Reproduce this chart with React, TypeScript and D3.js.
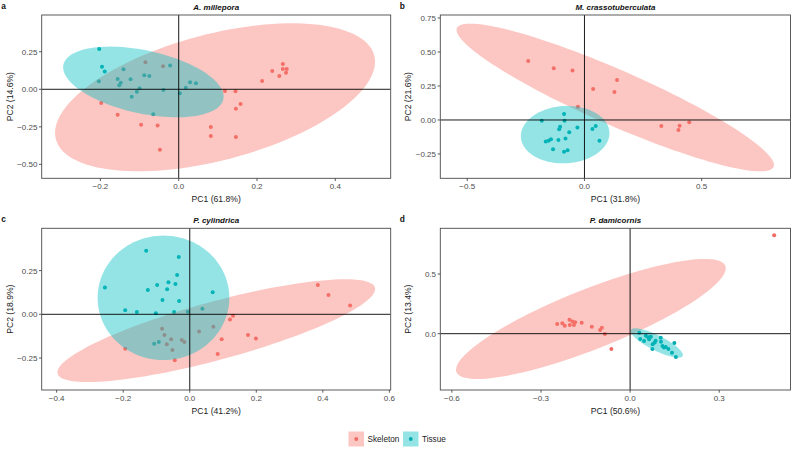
import React from "react";
import * as d3 from "d3";

// ---------- data (PC1, PC2) ----------
const aSkeleton: [number, number][] = [
  [-0.085, 0.18], [-0.04, 0.153], [-0.198, -0.091], [-0.156, -0.169], [-0.096, -0.236],
  [-0.054, -0.242], [-0.048, -0.402], [0.082, -0.251], [0.082, -0.311], [0.118, -0.011],
  [0.145, -0.013], [0.146, -0.129], [0.158, -0.098], [0.146, -0.318], [0.213, 0.056],
  [0.239, 0.122], [0.257, 0.089], [0.266, 0.169], [0.266, 0.136], [0.274, 0.111], [0.276, 0.136],
];
const aTissue: [number, number][] = [
  [-0.203, 0.269], [-0.196, 0.151], [-0.189, 0.118], [-0.204, 0.053], [-0.141, 0.133],
  [-0.156, 0.069], [-0.148, 0.044], [-0.152, 0.027], [-0.123, 0.067], [-0.088, 0.093],
  [-0.075, 0.089], [-0.1, 0.007], [-0.107, -0.016], [-0.12, -0.049], [-0.039, -0.004],
  [-0.022, 0.158], [0.003, -0.027], [0.018, 0.011], [0.029, 0.047], [0.044, 0.04], [-0.065, -0.167],
];
const bSkeleton: [number, number][] = [
  [-0.24, 0.434], [-0.131, 0.38], [-0.051, 0.363], [-0.028, 0.098], [0.037, 0.228],
  [0.139, 0.294], [0.128, 0.206], [0.328, -0.044], [0.401, -0.074], [0.406, -0.042], [0.447, -0.017],
];
const bTissue: [number, number][] = [
  [-0.182, -0.005], [-0.087, 0.044], [-0.085, -0.005], [-0.104, -0.049], [-0.108, -0.069],
  [-0.065, -0.091], [-0.03, -0.056], [0.034, -0.066], [0.048, -0.044], [0.064, -0.152],
  [-0.081, -0.137], [-0.111, -0.147], [-0.143, -0.142], [-0.153, -0.152], [-0.165, -0.159],
  [-0.134, -0.216], [-0.087, -0.233], [-0.072, -0.223],
];
const cSkeleton: [number, number][] = [
  [-0.194, -0.197], [-0.083, -0.082], [-0.076, -0.118], [-0.069, -0.172], [-0.056, -0.143],
  [-0.052, -0.204], [-0.045, -0.263], [-0.024, -0.147], [-0.016, -0.158], [0.028, -0.099],
  [0.071, -0.071], [0.096, -0.143], [0.084, -0.227], [0.121, -0.029], [0.13, -0.008],
  [0.175, -0.118], [0.199, -0.139], [0.385, 0.168], [0.417, 0.111], [0.482, 0.05],
];
const cTissue: [number, number][] = [
  [-0.131, 0.363], [-0.033, 0.328], [-0.038, 0.225], [-0.255, 0.153], [-0.126, 0.139],
  [-0.098, 0.168], [-0.064, 0.183], [-0.043, 0.174], [-0.068, 0.143], [-0.082, 0.082],
  [-0.032, 0.076], [0.069, 0.126], [-0.194, 0.023], [-0.159, 0.013], [-0.102, 0.006],
  [-0.047, 0.013], [-0.006, 0.015], [0.038, 0.032], [-0.107, -0.168], [-0.093, -0.158],
];
const dSkeleton: [number, number][] = [
  [0.485, 0.824], [-0.2455, 0.081], [-0.228, 0.087], [-0.22, 0.067], [-0.204, 0.117],
  [-0.203, 0.073], [-0.194, 0.101], [-0.189, 0.073], [-0.185, 0.095], [-0.163, 0.092],
  [-0.129, 0.059], [-0.101, 0.031], [-0.095, 0.05], [-0.085, -0.003], [-0.063, -0.128],
];
const dTissue: [number, number][] = [
  [0.031, 0.008], [0.034, -0.045], [0.047, -0.061], [0.053, -0.017], [0.061, -0.031],
  [0.064, -0.047], [0.07, -0.025], [0.075, -0.128], [0.076, -0.089], [0.083, -0.073],
  [0.086, -0.059], [0.103, -0.034], [0.104, -0.067], [0.109, -0.103], [0.114, -0.115],
  [0.12, -0.112], [0.129, -0.128], [0.149, -0.078], [0.141, -0.159], [0.154, -0.196],
];

// ellipses: [cx, cy, sx, sy, rho]
const aSkeletonEllipse = [0.0928, -0.0533, 0.4087, 0.493, 0.48];
const aTissueEllipse = [-0.0903, 0.0489, 0.205, 0.2356, -0.415];
const bSkeletonEllipse = [0.1314, 0.1654, 0.677, 0.543, -0.914];
const bTissueEllipse = [-0.0824, -0.108, 0.189, 0.211, 0.05];
const cSkeletonEllipse = [0.0797, -0.0935, 0.4775, 0.294, 0.81];
const cTissueEllipse = [-0.079, 0.0945, 0.198, 0.356, 0.0];
const dSkeletonEllipse = [-0.132, 0.123, 0.454, 0.503, 0.844];
const dTissueEllipse = [0.0897, -0.078, 0.088, 0.123, -0.82];

const panelLetters = ["a", "b", "c", "d"];
const panelTitles = ["A. millepora", "M. crassotuberculata", "P. cylindrica", "P. damicornis"];
const xLabels = ["PC1 (61.8%)", "PC1 (31.8%)", "PC1 (41.2%)", "PC1 (50.6%)"];
const yLabels = ["PC2 (14.6%)", "PC2 (21.6%)", "PC2 (18.9%)", "PC2 (13.4%)"];
const xDomains = [[-0.35, 0.5415], [-0.615, 0.879], [-0.445, 0.604], [-0.639, 0.54]];
const yDomains = [[-0.593, 0.495], [-0.429, 0.772], [-0.433, 0.492], [-0.472, 0.883]];
const xTicks = [[-0.2, 0, 0.2, 0.4], [-0.5, 0, 0.5], [-0.4, -0.2, 0, 0.2, 0.4, 0.6], [-0.6, -0.3, 0, 0.3]];
const xTickDigits = [1, 1, 1, 1];
const yTicks = [[-0.5, -0.25, 0, 0.25], [-0.25, 0, 0.25, 0.5, 0.75], [-0.25, 0, 0.25], [0, 0.5]];
const yTickDigits = [2, 2, 2, 1];
const groups = ["Skeleton", "Tissue"];
const skeletonSets = [aSkeleton, bSkeleton, cSkeleton, dSkeleton];
const tissueSets = [aTissue, bTissue, cTissue, dTissue];
const skeletonEllipses = [aSkeletonEllipse, bSkeletonEllipse, cSkeletonEllipse, dSkeletonEllipse];
const tissueEllipses = [aTissueEllipse, bTissueEllipse, cTissueEllipse, dTissueEllipse];

// ---------- style ----------
const FONT = "'Liberation Sans', Arial, sans-serif";
const POINT_COLORS = ["#F06A63", "#00ABAE"];
const FILL_COLORS = ["#F8766D", "#00BFC4"];
const FILL_ALPHA = 0.42;

const W = 792;
const H = 451;
const rects = [
  { l: 41.7, r: 390.7, t: 15, b: 178.3 },
  { l: 440.3, r: 790.5, t: 15, b: 178.3 },
  { l: 41.7, r: 390.7, t: 228.3, b: 390 },
  { l: 440.3, r: 790.5, t: 228.3, b: 390 },
];

function ellipsePoints(e: number[]): [number, number][] {
  const [cx, cy, sx, sy, rho] = e;
  const q = Math.sqrt(1 - rho * rho);
  return d3.range(0, 120).map((i) => {
    const t = (i / 120) * Math.PI * 2;
    return [cx + sx * Math.cos(t), cy + sy * (rho * Math.cos(t) + q * Math.sin(t))];
  });
}

function Panel({ i }: { i: number }) {
  const R = rects[i];
  const x = d3.scaleLinear().domain(xDomains[i]).range([R.l, R.r]);
  const y = d3.scaleLinear().domain(yDomains[i]).range([R.b, R.t]);
  const line = d3
    .line<[number, number]>()
    .x((d) => x(d[0]))
    .y((d) => y(d[1]))
    .curve(d3.curveLinearClosed);
  const sets = [skeletonSets[i], tissueSets[i]];
  const ells = [skeletonEllipses[i], tissueEllipses[i]];
  const clipId = `clip${i}`;
  const cxMid = (R.l + R.r) / 2;
  const cyMid = (R.t + R.b) / 2;
  return (
    <g>
      <defs>
        <clipPath id={clipId}>
          <rect x={R.l} y={R.t} width={R.r - R.l} height={R.b - R.t} />
        </clipPath>
      </defs>
      <g clipPath={`url(#${clipId})`}>
        {sets.map((s, g) =>
          s.map((p, k) => (
            <circle key={`${g}-${k}`} cx={x(p[0])} cy={y(p[1])} r={2} fill={POINT_COLORS[g]} />
          ))
        )}
        {ells.map((e, g) => (
          <path key={g} d={line(ellipsePoints(e)) || ""} fill={FILL_COLORS[g]} fillOpacity={FILL_ALPHA} stroke="none" />
        ))}
        <line x1={x(0)} x2={x(0)} y1={R.t} y2={R.b} stroke="#000" strokeWidth={0.9} />
        <line x1={R.l} x2={R.r} y1={y(0)} y2={y(0)} stroke="#000" strokeWidth={0.9} />
      </g>
      <rect x={R.l} y={R.t} width={R.r - R.l} height={R.b - R.t} fill="none" stroke="#4a4a4a" strokeWidth={0.9} />
      {xTicks[i].map((v) => (
        <g key={`x${v}`}>
          <line x1={x(v)} x2={x(v)} y1={R.b} y2={R.b + 2.7} stroke="#333" strokeWidth={0.8} />
          <text x={x(v)} y={R.b + 10.8} textAnchor="middle" fontSize={8} fill="#4d4d4d" fontFamily={FONT}>
            {d3.format(`.${xTickDigits[i]}f`)(v)}
          </text>
        </g>
      ))}
      {yTicks[i].map((v) => (
        <g key={`y${v}`}>
          <line x1={R.l - 2.7} x2={R.l} y1={y(v)} y2={y(v)} stroke="#333" strokeWidth={0.8} />
          <text x={R.l - 4.3} y={y(v) + 2.9} textAnchor="end" fontSize={8} fill="#4d4d4d" fontFamily={FONT}>
            {d3.format(`.${yTickDigits[i]}f`)(v)}
          </text>
        </g>
      ))}
      <text x={cxMid} y={R.b + 24} textAnchor="middle" fontSize={8.6} fill="#222" fontFamily={FONT}>
        {xLabels[i]}
      </text>
      <text
        transform={`translate(${R.l - 29},${cyMid}) rotate(-90)`}
        textAnchor="middle"
        fontSize={8.6}
        fill="#222"
        fontFamily={FONT}
      >
        {yLabels[i]}
      </text>
      <text x={cxMid} y={R.t - 5} textAnchor="middle" fontSize={8} fontWeight="bold" fontStyle="italic" fill="#111" fontFamily={FONT}>
        {panelTitles[i]}
      </text>
      <text x={R.l - 40.5} y={R.t - 6.5} fontSize={8.4} fontWeight="bold" fill="#111" fontFamily={FONT}>
        {panelLetters[i]}
      </text>
    </g>
  );
}

export default function App() {
  const legendX = [348.5, 403];
  return (
    <svg width={W} height={H} style={{ position: "absolute", left: 0, top: 0, background: "#fff" }}>
      <rect width={W} height={H} fill="#fff" />
      {[0, 1, 2, 3].map((i) => (
        <Panel key={i} i={i} />
      ))}
      {groups.map((g, k) => (
        <g key={g}>
          <rect x={legendX[k]} y={431.5} width={15.5} height={15} fill={FILL_COLORS[k]} fillOpacity={FILL_ALPHA} />
          <circle cx={legendX[k] + 7.75} cy={439} r={1.9} fill={POINT_COLORS[k]} />
          <text x={legendX[k] + 19} y={441.9} fontSize={8.2} fill="#222" fontFamily={FONT}>
            {g}
          </text>
        </g>
      ))}
    </svg>
  );
}
